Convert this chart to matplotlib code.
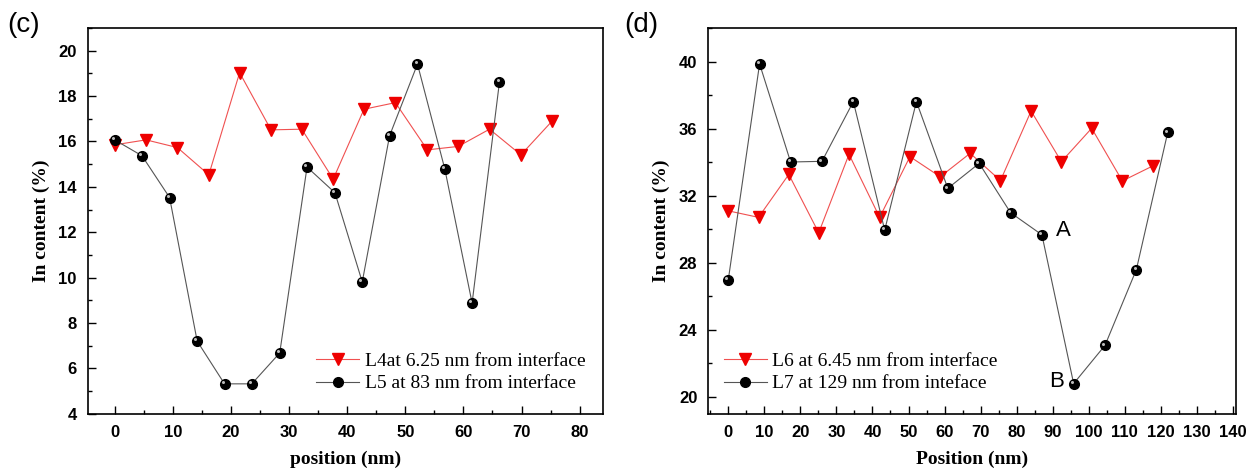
import matplotlib
matplotlib.use("Agg")
import matplotlib.pyplot as plt
from matplotlib.ticker import MultipleLocator
from matplotlib import transforms

# ---------- data panel (c) ----------
x_l4 = [0, 5.4, 10.8, 16.2, 21.5, 26.9, 32.2, 37.6, 42.9, 48.3, 53.8, 59.1, 64.5, 69.9, 75.2]
y_l4 = [15.85, 16.07, 15.73, 14.53, 19.03, 16.51, 16.54, 14.34, 17.42, 17.71, 15.63, 15.78, 16.54, 15.41, 16.88]
x_l5 = [0, 4.7, 9.45, 14.2, 18.9, 23.6, 28.4, 33.1, 37.9, 42.6, 47.3, 52.1, 56.8, 61.5, 66.2]
y_l5 = [16.07, 15.37, 13.53, 7.20, 5.32, 5.32, 6.68, 14.87, 13.74, 9.81, 16.25, 19.41, 14.79, 8.88, 18.61]

# ---------- data panel (d) ----------
x_l6 = [0, 8.4, 16.8, 25.1, 33.5, 42.0, 50.4, 58.8, 67.1, 75.5, 84.0, 92.4, 100.8, 109.3, 117.7]
y_l6 = [31.1, 30.71, 33.27, 29.79, 34.47, 30.71, 34.33, 33.13, 34.53, 32.90, 37.05, 34.03, 36.02, 32.88, 33.77]
x_l7 = [0, 8.7, 17.3, 26.0, 34.7, 43.4, 52.2, 60.9, 69.6, 78.3, 87.0, 95.8, 104.5, 113.2, 121.9]
y_l7 = [26.96, 39.86, 34.01, 34.05, 37.61, 29.95, 37.61, 32.44, 33.93, 30.99, 29.67, 20.80, 23.08, 27.60, 35.78]

serif = "Liberation Serif"
sans = "Liberation Sans"

fig = plt.figure(figsize=(12.56, 4.74), dpi=100)
ax1 = fig.add_axes([0.070, 0.127, 0.410, 0.814])
ax2 = fig.add_axes([0.564, 0.127, 0.420, 0.814])


def sphere(ax, x, y, label):
    # black ball with small highlight, thin grey line
    ax.plot(x, y, "-", color="#555555", lw=0.8, marker="o", ms=7,
            mfc="black", mec="black", label=label, zorder=3)
    hl = transforms.offset_copy(ax.transData, fig=fig, x=-1.3, y=1.3, units="points")
    ax.plot(x, y, "o", ms=2.2, color="#bbbbbb", mec="none", transform=hl, zorder=4)


def tri(ax, x, y, label):
    ax.plot(x, y, "-", color="#f05050", lw=0.8, marker="v", ms=8,
            mfc="#ee0000", mec="#ee0000", label=label, zorder=3)


def style(ax, xlim, ylim, xmaj, ymaj, xlabel):
    ax.set_xlim(*xlim)
    ax.set_ylim(*ylim)
    ax.xaxis.set_major_locator(MultipleLocator(xmaj))
    ax.xaxis.set_minor_locator(MultipleLocator(xmaj / 2))
    ax.yaxis.set_major_locator(MultipleLocator(ymaj))
    ax.yaxis.set_minor_locator(MultipleLocator(ymaj / 2))
    ax.tick_params(which="both", direction="in", top=False, right=False, width=1.0)
    ax.tick_params(which="major", length=6, labelsize=12, pad=8)
    ax.tick_params(which="minor", length=3)
    for lab in ax.get_xticklabels() + ax.get_yticklabels():
        lab.set_fontfamily(sans)
        lab.set_fontweight("bold")
    for s in ax.spines.values():
        s.set_linewidth(1.2)
    ax.set_xlabel(xlabel, fontfamily=serif, fontweight="bold", fontsize=14, labelpad=8)
    ax.set_ylabel("In content (%)", fontfamily=serif, fontweight="bold", fontsize=14, labelpad=6)


leg_kw = dict(frameon=False, prop={"family": serif, "size": 14}, handlelength=2.2,
              handletextpad=0.3, labelspacing=0.25, borderpad=0.4)

tri(ax1, x_l4, y_l4, "L4at 6.25 nm from interface")
sphere(ax1, x_l5, y_l5, "L5 at 83 nm from interface")
style(ax1, (-4.6, 84), (4, 21), 10, 2, "position (nm)")
ax1.legend(loc="lower right", bbox_to_anchor=(1.0, 0.01), **leg_kw)

tri(ax2, x_l6, y_l6, "L6 at 6.45 nm from interface")
sphere(ax2, x_l7, y_l7, "L7 at 129 nm from inteface")
style(ax2, (-5.5, 140.8), (19, 42), 10, 4, "Position (nm)")
ax2.legend(loc="lower left", bbox_to_anchor=(-0.004, 0.01), **leg_kw)
ax2.text(93, 29.9, "A", fontfamily=sans, fontsize=16, ha="center", va="center")
ax2.text(91.2, 20.9, "B", fontfamily=sans, fontsize=16, ha="center", va="center")

fig.text(0.006, 0.975, "(c)", fontfamily=sans, fontsize=20, ha="left", va="top")
fig.text(0.497, 0.975, "(d)", fontfamily=sans, fontsize=20, ha="left", va="top")

fig.savefig("out.png", dpi=100)
